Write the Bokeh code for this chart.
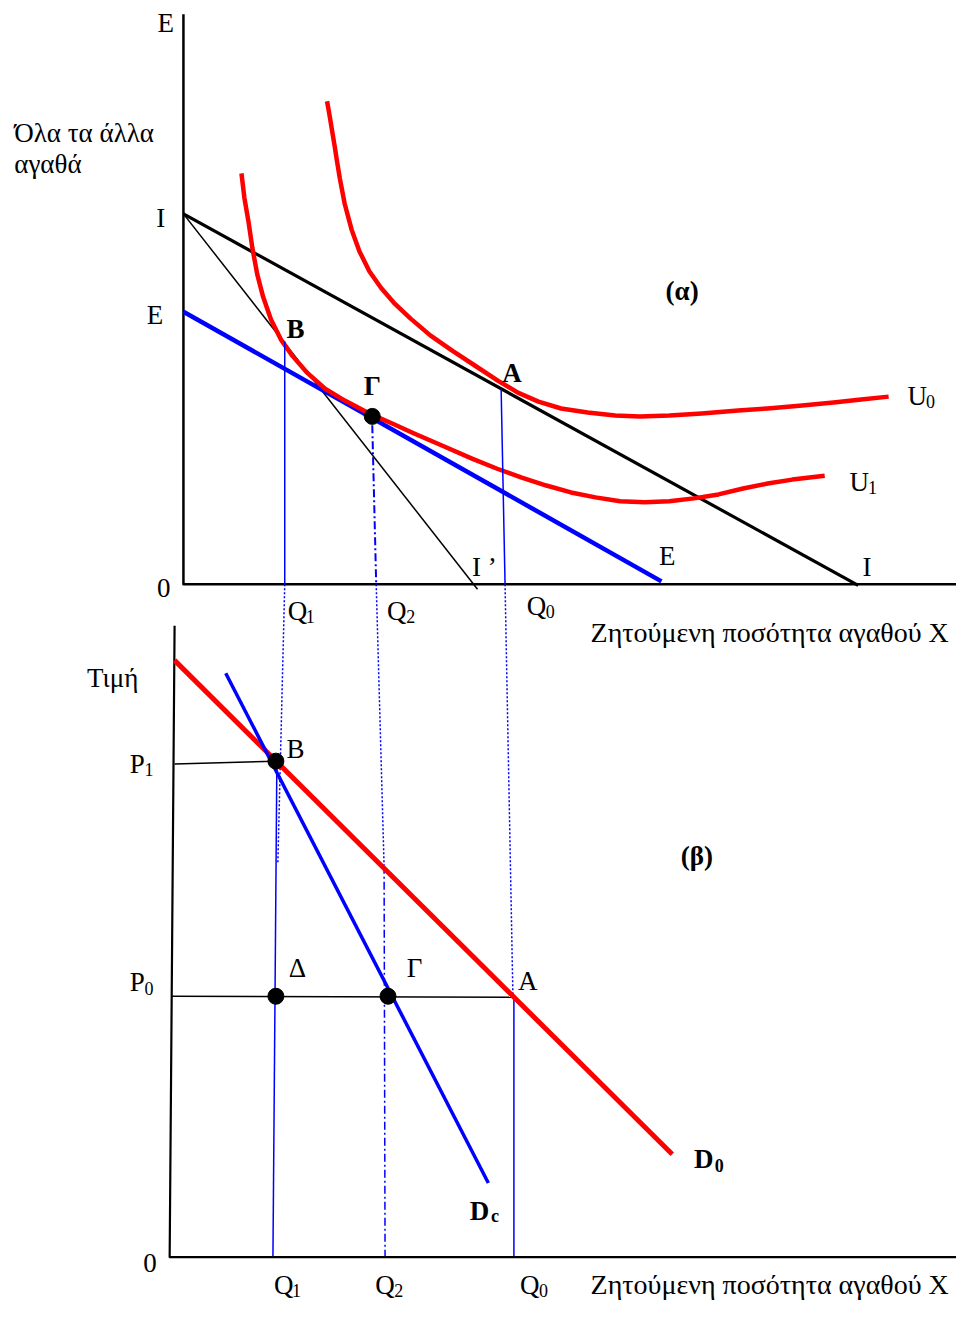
from bokeh.plotting import figure
from bokeh.models import Range1d
from bokeh.core.properties import value
from bokeh.embed import file_html
from bokeh.resources import INLINE

# ---------------- data (reference-pixel units, y grows downward) ----------------
# panel (α): indifference map
axis_a_x = [186, 186, 972]
axis_a_y = [14, 591, 591]
line_II_x = [186, 872]
line_II_y = [216, 592]
line_IIp_x = [186, 485]
line_IIp_y = [216, 596]
line_EE_x = [186, 672]
line_EE_y = [315, 588]
u0_x = [332, 334, 336, 338, 340, 342, 345, 350, 357, 365, 375, 387, 400, 417, 437, 460, 483,
        506, 526, 547, 570, 597, 625, 650, 680, 713, 750, 780, 815, 847, 875, 903]
u0_y = [102, 113, 125, 137, 149, 162, 180, 206, 232, 254, 274, 291, 306, 322, 339, 355, 370,
        385, 397, 406, 413, 417, 420, 421, 420, 418, 415, 413, 410, 407, 404, 401]
u1_x = [245, 248, 252, 256, 261, 267, 275, 285, 297, 312, 330, 350, 377, 400, 420, 450, 480,
        505, 530, 555, 580, 605, 630, 655, 680, 705, 730, 755, 780, 805, 838]
u1_y = [175, 200, 223, 250, 277, 300, 323, 343, 360, 377, 393, 405, 419, 429, 438, 451, 464,
        474, 483, 491, 498, 503, 507, 508, 507, 504, 500, 494, 489, 485, 481]
gamma_a = ([378], [421])

# projection lines between panels
q1_solid_a_x = [289, 289];  q1_solid_a_y = [345, 591]
q1_dot_x = [289, 282];      q1_dot_y = [591, 873]
q1_solid_b_x = [281, 277];  q1_solid_b_y = [770, 1272]
q2_dd_a_x = [378, 382];     q2_dd_a_y = [430, 591]
q2_dot_x = [382, 390];      q2_dot_y = [591, 876]
q2_dd_b_x = [390, 391];     q2_dd_b_y = [876, 1272]
q0_solid_a_x = [509, 513];  q0_solid_a_y = [393, 591]
q0_dot_x = [513, 521];      q0_dot_y = [591, 1008]
q0_solid_b_x = [522, 522];  q0_solid_b_y = [1008, 1272]

# panel (β): demand curves
axis_b_x = [177, 172, 972]
axis_b_y = [633, 1272, 1272]
d0_x = [177, 683]
d0_y = [668, 1168]
dc_x = [229, 496]
dc_y = [681, 1197]
p1_x = [177, 280]; p1_y = [773, 770]
p0_x = [174, 522]; p0_y = [1008, 1009]
dots_b_x = [280, 280, 394]
dots_b_y = [770, 1008, 1008]

X_LABEL = "Ζητούμενη ποσότητα αγαθού Χ"
Y_LABEL_A = ["Όλα τα άλλα", "αγαθά"]
Y_LABEL_B = "Τιμή"

# ---------------------------------------------------------------------------
p = figure(width=956, height=1301, x_range=Range1d(0, 972), y_range=Range1d(1317, 0),
           output_backend="svg", toolbar_location=None,
           x_axis_location=None, y_axis_location=None, min_border=0)
p.grid.visible = False
p.outline_line_color = None
p.background_fill_color = "white"

RED = "#ff0000"
BLUE = "#0000ff"
FONT = value("Liberation Serif")
FS = 27


def ln(xs, ys, color="black", w=2, dash="solid"):
    p.line(xs, ys, line_color=color, line_width=w, line_dash=dash,
           line_cap="butt", line_join="round")


def lab(x, y, t, size=FS, bold=False, align="center"):
    p.text(x=[x], y=[y], text=[t], text_font=FONT, text_font_size=f"{size}px",
           text_font_style="bold" if bold else "normal",
           text_align=align, text_baseline="middle", text_color="black")


def sublab(x, y, main, sub, size=FS, bold=False, dx=None):
    lab(x, y, main, size, bold)
    if dx is None:
        dx = size * (0.58 if bold else 0.50)
    lab(x + dx, y + size * 0.22, sub, int(size * 0.68), bold)


# ---- panel (α)
ln(axis_a_x, axis_a_y, "black", 2.5)
ln(line_IIp_x, line_IIp_y, "black", 1.5)
ln(line_II_x, line_II_y, "black", 3.2)
ln(line_EE_x, line_EE_y, BLUE, 4.5)
ln(u0_x, u0_y, RED, 4.5)
ln(u1_x, u1_y, RED, 4.5)

# projections
ln(q1_solid_a_x, q1_solid_a_y, BLUE, 1.5)
ln(q1_dot_x, q1_dot_y, BLUE, 1.5, "2 2")
ln(q1_solid_b_x, q1_solid_b_y, BLUE, 1.5)
ln(q2_dd_a_x, q2_dd_a_y, BLUE, 2, "8 3 2 3")
ln(q2_dot_x, q2_dot_y, BLUE, 1.5, "2 2")
ln(q2_dd_b_x, q2_dd_b_y, BLUE, 1.5, "8 3 2 3")
ln(q0_solid_a_x, q0_solid_a_y, BLUE, 1.5)
ln(q0_dot_x, q0_dot_y, BLUE, 1.5, "2 2")
ln(q0_solid_b_x, q0_solid_b_y, BLUE, 1.5)

p.scatter(gamma_a[0], gamma_a[1], size=16, color="black")

lab(168, 23, "E")
lab(14, 134, Y_LABEL_A[0], align="left")
lab(14, 166, Y_LABEL_A[1], align="left")
lab(163, 220, "I")
lab(157, 318, "E")
lab(166, 595, "0")
lab(300, 333, "B", bold=True)
lab(378, 390, "Γ", bold=True)
lab(520, 377, "A", bold=True)
lab(693, 294, "(α)", bold=True)
sublab(932, 400, "U", "0")
sublab(873, 487, "U", "1")
lab(678, 562, "E")
lab(881, 573, "I")
lab(492, 573, "I ’")
sublab(302, 618, "Q", "1", dx=13)
sublab(403, 618, "Q", "2", dx=14)
sublab(545, 613, "Q", "0", dx=14)
lab(600, 640, X_LABEL, size=28, align="left")

# ---- panel (β)
ln(axis_b_x, axis_b_y, "black", 2.2)
ln(p1_x, p1_y, "black", 1.5)
ln(p0_x, p0_y, "black", 1.5)
ln(d0_x, d0_y, RED, 5)
ln(dc_x, dc_y, BLUE, 3.5)
p.scatter(dots_b_x, dots_b_y, size=16, color="black")

lab(114, 686, Y_LABEL_B)
sublab(139, 773, "P", "1", dx=12)
sublab(139, 994, "P", "0", dx=12)
lab(152, 1278, "0")
lab(300, 758, "B")
lab(302, 979, "Δ")
lab(421, 979, "Γ")
lab(536, 993, "A")
lab(708, 866, "(β)", bold=True)
sublab(715, 1173, "D", "0", bold=True)
sublab(487, 1225, "D", "c", bold=True)
sublab(288, 1300, "Q", "1", dx=13)
sublab(391, 1300, "Q", "2", dx=14)
sublab(538, 1300, "Q", "0", dx=14)
lab(600, 1300, X_LABEL, size=28, align="left")

open("out.html", "w").write(file_html(p, INLINE))
